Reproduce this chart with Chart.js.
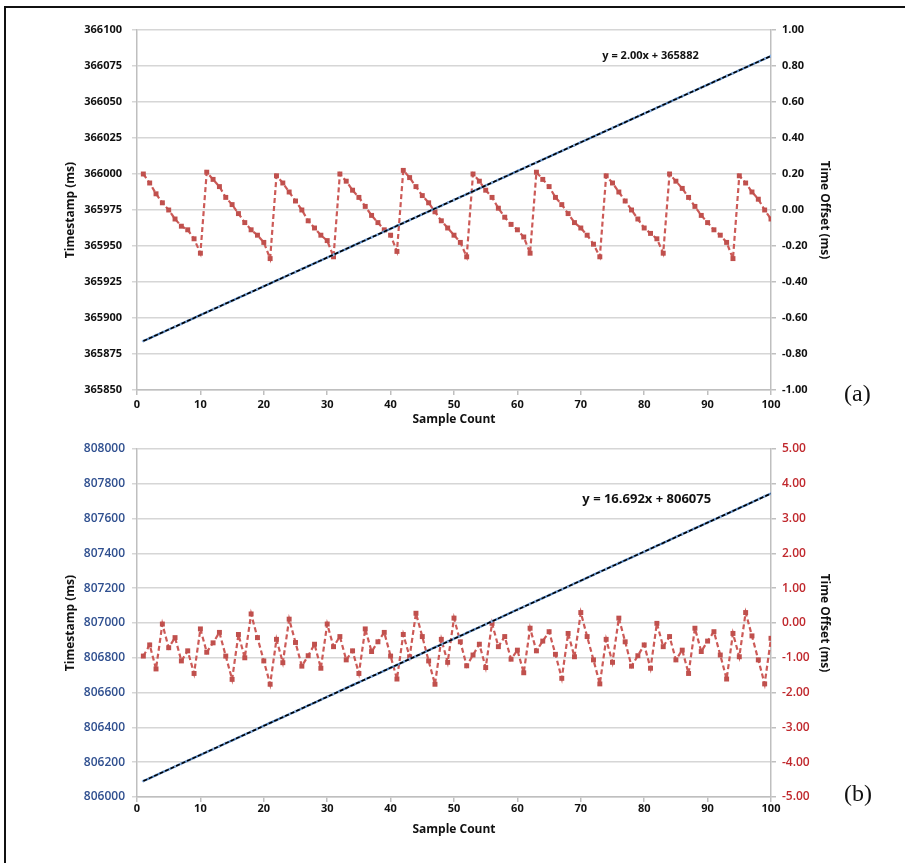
<!DOCTYPE html>
<html><head><meta charset="utf-8">
<script src="https://cdn.jsdelivr.net/npm/chart.js@4"></script>
<style>
html,body{margin:0;padding:0;background:#fff;}
#wrap{position:relative;width:905px;height:863px;overflow:hidden;background:#fff;}
canvas{position:absolute;left:0;}
#ca{top:0;}
#cb{top:430px;}
.frameTop{position:absolute;left:4px;top:6px;width:901px;height:2px;background:#111;}
.frameLeft{position:absolute;left:4px;top:6px;width:2px;height:857px;background:#111;}
.lab{position:absolute;font-family:"Liberation Serif","DejaVu Serif",serif;font-size:24px;line-height:24px;color:#111;}
</style></head>
<body>
<div id="wrap">
  <canvas id="ca" width="905" height="430"></canvas>
  <canvas id="cb" width="905" height="433"></canvas>
  <div class="frameTop"></div>
  <div class="frameLeft"></div>
  <div class="lab" style="left:844px;top:381px;">(a)</div>
  <div class="lab" style="left:844px;top:781px;">(b)</div>
</div>
<script>
const sampleCount = [1,2,3,4,5,6,7,8,9,10,11,12,13,14,15,16,17,18,19,20,21,22,23,24,25,26,27,28,29,30,31,32,33,34,35,36,37,38,39,40,41,42,43,44,45,46,47,48,49,50,51,52,53,54,55,56,57,58,59,60,61,62,63,64,65,66,67,68,69,70,71,72,73,74,75,76,77,78,79,80,81,82,83,84,85,86,87,88,89,90,91,92,93,94,95,96,97,98,99,100];

const timestampA = [
365884,365886,365888,365890,365892,365894,365896,365898,365900,365902,
365904,365906,365908,365910,365912,365914,365916,365918,365920,365922,
365924,365926,365928,365930,365932,365934,365936,365938,365940,365942,
365944,365946,365948,365950,365952,365954,365956,365958,365960,365962,
365964,365966,365968,365970,365972,365974,365976,365978,365980,365982,
365984,365986,365988,365990,365992,365994,365996,365998,366000,366002,
366004,366006,366008,366010,366012,366014,366016,366018,366020,366022,
366024,366026,366028,366030,366032,366034,366036,366038,366040,366042,
366044,366046,366048,366050,366052,366054,366056,366058,366060,366062,
366064,366066,366068,366070,366072,366074,366076,366078,366080,366082];

const offsetA = [
0.20,0.15,0.09,0.04,0.00,-0.05,-0.09,-0.11,-0.16,-0.24,
0.21,0.17,0.13,0.07,0.03,-0.02,-0.07,-0.11,-0.14,-0.18,
-0.27,0.19,0.15,0.10,0.05,0.00,-0.06,-0.10,-0.14,-0.17,
-0.26,0.20,0.16,0.11,0.07,0.02,-0.03,-0.07,-0.11,-0.14,
-0.23,0.22,0.18,0.13,0.08,0.04,-0.01,-0.06,-0.10,-0.14,
-0.18,-0.26,0.20,0.16,0.11,0.07,0.01,-0.04,-0.08,-0.11,
-0.15,-0.24,0.21,0.17,0.13,0.07,0.03,-0.02,-0.07,-0.10,
-0.14,-0.19,-0.26,0.19,0.15,0.10,0.05,0.00,-0.05,-0.10,
-0.13,-0.16,-0.24,0.20,0.16,0.12,0.07,0.02,-0.03,-0.07,
-0.11,-0.14,-0.18,-0.27,0.19,0.15,0.10,0.06,0.00,-0.05];

const trendA = {x: [1, 100], y: [365884, 366082]};
const equationA = 'y = 2.00x + 365882';

const timestampB = [
806092,806108,806125,806142,806158,806175,806192,806209,806225,806242,
806259,806275,806292,806309,806325,806342,806359,806375,806392,806409,
806426,806442,806459,806476,806492,806509,806526,806542,806559,806576,
806592,806609,806626,806643,806659,806676,806693,806709,806726,806743,
806759,806776,806793,806809,806826,806843,806860,806876,806893,806910,
806926,806943,806960,806976,806993,807010,807026,807043,807060,807077,
807093,807110,807127,807143,807160,807177,807193,807210,807227,807243,
807260,807277,807294,807310,807327,807344,807360,807377,807394,807410,
807427,807444,807460,807477,807494,807511,807527,807544,807561,807577,
807594,807611,807627,807644,807661,807677,807694,807711,807728,807744];

const offsetB = [
-0.95,-0.63,-1.32,-0.03,-0.71,-0.42,-1.09,-0.80,-1.45,-0.17,
-0.84,-0.57,-0.27,-0.95,-1.62,-0.33,-1.00,0.26,-0.42,-1.09,
-1.76,-0.47,-1.14,0.11,-0.56,-1.24,-0.94,-0.61,-1.30,-0.03,
-0.68,-0.39,-1.06,-0.80,-1.45,-0.17,-0.82,-0.54,-0.27,-0.95,
-1.61,-0.33,-0.97,0.28,-0.39,-1.09,-1.76,-0.47,-1.13,0.14,
-0.54,-1.23,-0.92,-0.61,-1.28,-0.01,-0.68,-0.39,-1.04,-0.78,
-1.43,-0.15,-0.80,-0.52,-0.25,-0.90,-1.59,-0.30,-0.97,0.30,
-0.39,-1.06,-1.75,-0.47,-1.13,0.14,-0.54,-1.24,-0.94,-0.63,
-1.30,-0.01,-0.68,-0.39,-1.06,-0.78,-1.45,-0.15,-0.82,-0.52,
-0.25,-0.92,-1.61,-0.30,-0.97,0.30,-0.37,-1.06,-1.75,-0.44];

const trendB = {x: [1, 100], y: [806091.7, 807744.2]};
const equationB = 'y = 16.692x + 806075';

const xTicks = {min: 0, max: 100, step: 10};
const leftTicksA = {min: 365850, max: 366100, step: 25};
const rightTicksA = {min: -1, max: 1, step: 0.2};
const leftTicksB = {min: 806000, max: 808000, step: 200};
const rightTicksB = {min: -5, max: 5, step: 1};

const FONT = '"Open Sans", "DejaVu Sans", sans-serif';
const RED = '#C0504D';
const BLUE = '#4F81BD';
const GRID = '#D6D6D6';
const AXIS = '#BFBFBF';

function pts(xs, ys){ return xs.map((x,i)=>({x:x, y:ys[i]})); }

const eqPlugin = {
  id: 'eq',
  afterDatasetsDraw(chart, args, opts){
    if(!opts || !opts.text) return;
    const ctx = chart.ctx;
    const xs = chart.scales.x, ys = chart.scales.y;
    ctx.save();
    ctx.font = opts.font;
    ctx.fillStyle = '#111';
    ctx.textAlign = 'center';
    ctx.textBaseline = 'middle';
    ctx.fillText(opts.text, xs.getPixelForValue(opts.x), ys.getPixelForValue(opts.y));
    ctx.restore();
  }
};

function fmt2(v){ if (Math.abs(v) < 1e-9) v = 0; return v.toFixed(2); }

function build(id, o){
  new Chart(document.getElementById(id), {
    type: 'line',
    data: {
      datasets: [
        { label: 'Linear fit', data: pts(o.trend.x, o.trend.y), yAxisID: 'y',
          borderColor: '#000', borderWidth: 1.6, borderDash: [4,2], pointRadius: 0, fill: false, tension: 0 },
        { label: 'Timestamp', data: pts(sampleCount, o.ts), yAxisID: 'y',
          borderColor: BLUE, borderWidth: 2.2, pointStyle: 'rectRot', pointRadius: 1.8,
          pointBackgroundColor: '#8DB3E2', pointBorderWidth: 0, fill: false, tension: 0 },
        { label: 'Time Offset', data: pts(sampleCount, o.off), yAxisID: 'y1',
          borderColor: '#CC5A57', borderWidth: 2.2, borderDash: [5,3], pointStyle: 'rect', pointRadius: 3.5,
          pointBackgroundColor: RED, pointBorderWidth: 0, fill: false, tension: 0 }
      ]
    },
    options: {
      responsive: false, animation: false, events: [],
      layout: { padding: o.pad },
      plugins: { legend: {display:false}, tooltip: {enabled:false},
        eq: { text: o.eq, x: o.eqX, y: o.eqY, font: o.eqFont } },
      scales: {
        x: { type: 'linear', min: xTicks.min, max: xTicks.max,
          ticks: { stepSize: xTicks.step, color: '#111', padding: o.xTickPad,
            font: { family: FONT, size: 11, weight: 'bold' } },
          grid: { drawOnChartArea: false, drawTicks: true, tickLength: 5, color: AXIS, lineWidth: 1.5 },
          border: { color: AXIS, width: 1.5 },
          title: { display: true, text: 'Sample Count', color: '#111',
            font: { family: FONT, size: 12, weight: 'bold' }, padding: { top: 0, bottom: o.xTitlePad } },
          afterFit: s => { s.height = 40; } },
        y: { type: 'linear', position: 'left', min: o.left.min, max: o.left.max,
          ticks: { stepSize: o.left.step, color: o.leftColor, padding: o.leftPad,
            font: { family: FONT, size: o.leftSize, weight: o.leftWeight },
            callback: v => String(Math.round(v)) },
          grid: { color: GRID, lineWidth: 1.5, tickLength: 5 },
          border: { color: AXIS, width: 1.5 },
          title: { display: true, text: 'Timestamp (ms)', color: '#111',
            font: { family: FONT, size: 12, weight: 'bold' }, padding: { top: 63, bottom: 0 } },
          afterFit: s => { s.width = 137; } },
        y1: { type: 'linear', position: 'right', min: o.right.min, max: o.right.max,
          ticks: { stepSize: o.right.step, color: o.rightColor, padding: 6,
            font: { family: FONT, size: o.rightSize, weight: o.rightWeight },
            callback: v => fmt2(v) },
          grid: { drawOnChartArea: false, drawTicks: true, tickLength: 5, color: AXIS, lineWidth: 1.5 },
          border: { color: AXIS, width: 1.5 },
          title: { display: true, text: 'Time Offset (ms)', color: '#111',
            font: { family: FONT, size: 12, weight: 'bold' }, padding: { top: 73, bottom: 0 } },
          afterFit: s => { s.width = 134; } }
      }
    },
    plugins: [eqPlugin]
  });
}

build('ca', {
  trend: trendA, ts: timestampA, off: offsetA,
  pad: { top: 30, left: 0, right: 0, bottom: 0 },
  xTickPad: 3, xTitlePad: 3,
  left: leftTicksA, leftColor: '#111', leftSize: 11, leftWeight: 'bold', leftPad: 10,
  right: rightTicksA, rightColor: '#111', rightSize: 11, rightWeight: 'bold',
  eq: equationA, eqX: 81, eqY: 366082, eqFont: 'bold 11px ' + FONT
});

build('cb', {
  trend: trendB, ts: timestampB, off: offsetB,
  pad: { top: 19, left: 0, right: 0, bottom: 26 },
  xTickPad: 0, xTitlePad: 0,
  left: leftTicksB, leftColor: '#2F4F8F', leftSize: 12, leftWeight: '600', leftPad: 7,
  right: rightTicksB, rightColor: '#C0282D', rightSize: 12, rightWeight: '600',
  eq: equationB, eqX: 80.4, eqY: 807712, eqFont: 'bold 13px ' + FONT
});
</script>
</body></html>
